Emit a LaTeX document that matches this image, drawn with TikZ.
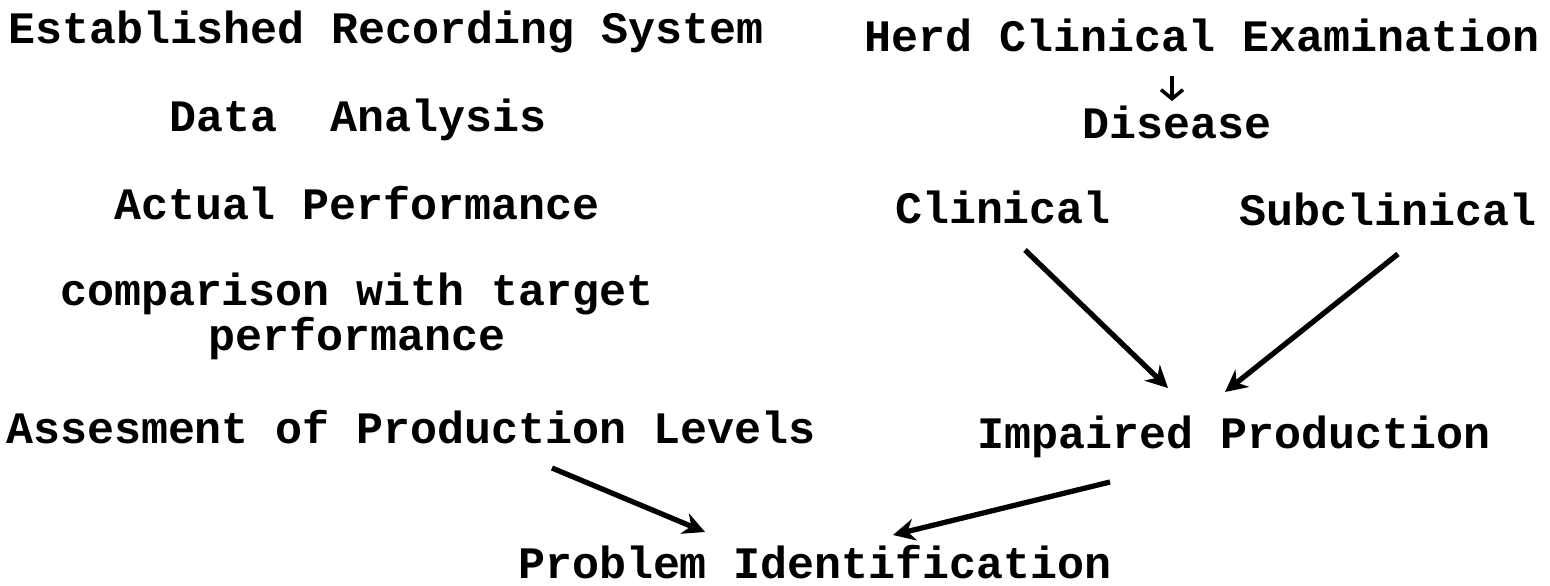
\documentclass[tikz,border=0pt]{standalone}
\usepackage{fontspec}
\setmonofont{Liberation Mono}
\usepackage{tikz}
\usetikzlibrary{arrows.meta,calc}

\begin{document}
\begin{tikzpicture}[
     lbl/.style={inner sep=0pt, anchor=base, align=center, font=\ttfamily\bfseries\fontsize{12.8}{12.8}\selectfont},
     arr/.style={-{Stealth[length=2.2mm,width=2.2mm]}, line width=1.5pt},
     smallarr/.style={-{Straight Barb[length=0.9mm,width=2.2mm]}, line width=1pt}]
               \useasboundingbox (0,0) rectangle (15.5,-5.85);
               % left column
               \node[lbl] (records) at (3.86,-0.43) {Established Recording System};
               \node[lbl] (analysis) at (3.58,-1.31) {Data\ \ Analysis};
               \node[lbl] (actual) at (3.57,-2.19) {Actual Performance};
               \node[lbl] (compare) at (3.57,-3.50) {comparison with target\\performance};
               \node[lbl] (assess) at (4.11,-4.43) {Assesment of Production Levels};
               % right column
               \node[lbl] (herd) at (12.02,-0.51) {Herd Clinical Examination};
               \node[lbl] (disease) at (11.77,-1.38) {Disease};
               \node[lbl] (clinical) at (10.03,-2.23) {Clinical};
               \node[lbl] (subclin) at (13.88,-2.25) {Subclinical};
               \node[lbl] (impaired) at (12.34,-4.48) {Impaired Production};
               \node[lbl] (problem) at (8.15,-5.78) {Problem Identification};
               \draw[smallarr] ([xshift=-0.3cm,yshift=-0.25cm]herd.base) -- ([xshift=-0.05cm,yshift=0.37cm]disease.base);
               \draw[arr] ($(clinical.base)+(0.22,-0.27)$) -- ($(impaired.base)+(-0.66,0.60)$);
               \draw[arr] ($(subclin.base)+(0.10,-0.29)$) -- ($(impaired.base)+(-0.09,0.56)$);
               \draw[arr] ($(assess.base)+(1.41,-0.25)$) -- ($(problem.base)+(-1.10,0.46)$);
               \draw[arr] ($(impaired.base)+(-1.24,-0.34)$) -- ($(problem.base)+(0.78,0.43)$);
          \end{tikzpicture}
\end{document}
